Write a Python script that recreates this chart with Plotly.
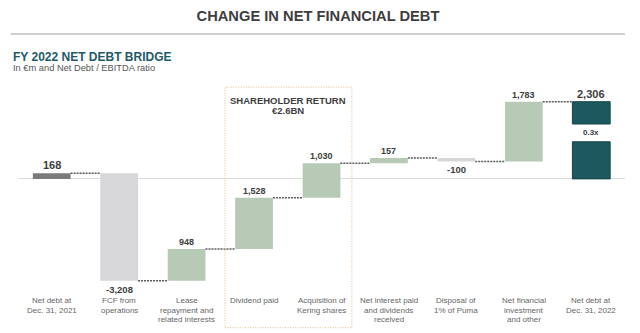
import plotly.graph_objects as go

# ---- data ----
categories = [
    "Net debt at<br>Dec. 31, 2021",
    "FCF from<br>operations",
    "Lease<br>repayment and<br>related interests",
    "Dividend paid",
    "Acquisition of<br>Kering shares",
    "Net interest paid<br>and dividends<br>received",
    "Disposal of<br>1% of Puma",
    "Net financial<br>investment<br>and other",
    "Net debt at<br>Dec. 31, 2022",
]
values = [168, -3208, 948, 1528, 1030, 157, -100, 1783, 2306]
measures = ["total", "relative", "relative", "relative", "relative",
            "relative", "relative", "relative", "total"]
value_labels = ["168", "-3,208", "948", "1,528", "1,030", "157", "-100", "1,783", "2,306"]
ratio_label = "0.3x"
box_lines = ["SHAREHOLDER RETURN", "€2.6BN"]
title_text = "CHANGE IN NET FINANCIAL DEBT"
subtitle_text = "FY 2022 NET DEBT BRIDGE"
unit_text = "In €m and Net Debt / EBITDA ratio"

# ---- styles ----
C_START = "#7b7b7b"
C_DOWN = "#d7d7d9"
C_UP = "#b6cab6"
C_END = "#1c585d"
C_TEXT = "#3d3d3d"
C_LABEL = "#666666"
BAR_W = 0.56
FONT = "Arial, Liberation Sans, sans-serif"
GAP_LO, GAP_HI = 0.481, 0.711  # fraction of final bar left blank for the ratio

# ---- waterfall geometry from data ----
bases, heights, levels, colors = [], [], [], []
cum = 0
for i, (v, m) in enumerate(zip(values, measures)):
    if m == "total":
        bases.append(0); heights.append(v); cum = v
        colors.append(C_START if i == 0 else C_END)
    else:
        bases.append(cum); heights.append(v); cum += v
        colors.append(C_UP if v > 0 else C_DOWN)
    levels.append(cum)

xs = list(range(len(values)))
n = len(values)

fig = go.Figure()
fig.add_trace(go.Bar(
    x=xs[:-1], y=heights[:-1], base=bases[:-1], width=BAR_W,
    marker=dict(color=colors[:-1], line=dict(width=0)), hoverinfo="skip",
))
final = values[-1]
fig.add_trace(go.Bar(
    x=[xs[-1], xs[-1]], y=[final * GAP_LO, final * (1 - GAP_HI)],
    base=[0, final * GAP_HI], width=BAR_W,
    marker=dict(color=C_END, line=dict(color="#14474b", width=1)), hoverinfo="skip",
))

shapes = []
annotations = []

# connectors
for i in range(n - 1):
    shapes.append(dict(type="line", xref="x", yref="y",
                       x0=i + BAR_W / 2, x1=i + 1 - BAR_W / 2,
                       y0=levels[i], y1=levels[i],
                       line=dict(color="#5a5a5a", width=1.5, dash="2px,1px")))

# value labels
for i, (v, m) in enumerate(zip(values, measures)):
    big = m == "total"
    if v >= 0:
        y = levels[i] if m == "relative" else v
        annotations.append(dict(x=i, y=y, xref="x", yref="y", text=f"<b>{value_labels[i]}</b>",
                                showarrow=False, yanchor="bottom", yshift=0,
                                font=dict(size=11 if big else 9, color=C_TEXT, family=FONT)))
    else:
        annotations.append(dict(x=i, y=levels[i], xref="x", yref="y", text=f"<b>{value_labels[i]}</b>",
                                showarrow=False, yanchor="top", yshift=-1,
                                font=dict(size=9.5, color=C_TEXT, family=FONT)))

annotations.append(dict(x=xs[-1], y=final * (GAP_LO + GAP_HI) / 2, xref="x", yref="y",
                        text=f"<b>{ratio_label}</b>", showarrow=False,
                        font=dict(size=8, color=C_TEXT, family=FONT)))

# category labels (one annotation per line for tight spacing)
for i, lab in enumerate(categories):
    for k, line in enumerate(lab.split("<br>")):
        annotations.append(dict(x=i, y=0, xref="x", yref="paper", text=line,
                                showarrow=False, yanchor="middle", yshift=-(15.7 + 9.3 * k),
                                font=dict(size=8, color=C_LABEL, family=FONT)))

# shareholder return box
shapes.append(dict(type="rect", xref="x", yref="paper", x0=2.57, x1=4.45,
                   y0=-0.219, y1=1.015, line=dict(color="#f0c59c", width=1.2, dash="1px,1.5px"),
                   fillcolor="rgba(0,0,0,0)"))
for k, t in enumerate(box_lines):
    annotations.append(dict(x=3.5, y=1.0, xref="x", yref="paper", text=f"<b>{t}</b>",
                            showarrow=False, yanchor="middle", yshift=-(10.3 + 10.4 * k),
                            font=dict(size=9.5, color=C_TEXT, family=FONT)))

# header
shapes.append(dict(type="line", xref="paper", yref="paper", x0=-0.012, x1=1.0,
                   y0=1.287, y1=1.287, line=dict(color="#cfcfcf", width=2)))
annotations.append(dict(x=-0.012, y=(285 - 56.7) / 195, xref="paper", yref="paper",
                        text=f"<b>{subtitle_text}</b>", showarrow=False,
                        xanchor="left", yanchor="middle",
                        font=dict(size=12, color="#1e5a66", family=FONT)))
annotations.append(dict(x=-0.012, y=(285 - 67.5) / 195, xref="paper", yref="paper",
                        text=unit_text, showarrow=False, xanchor="left", yanchor="middle",
                        font=dict(size=9.3, color="#555555", family=FONT)))

fig.update_layout(
    width=640, height=333,
    margin=dict(l=18, r=15, t=90, b=48),
    paper_bgcolor="white", plot_bgcolor="white",
    barmode="overlay", showlegend=False,
    title=dict(text=f"<b>{title_text}</b>", x=318 / 640, y=1 - 15.7 / 333,
               xanchor="center", yanchor="middle", xref="container", yref="container",
               font=dict(size=14.7, color="#3d3d3d", family=FONT)),
    xaxis=dict(range=[-0.5, n - 0.5], showticklabels=False, showgrid=False,
               zeroline=False, showline=False, ticks=""),
    yaxis=dict(range=[-3169, 2655], showticklabels=False, showgrid=False,
               zeroline=True, zerolinecolor="#dcdcdc", zerolinewidth=1,
               showline=False, ticks=""),
    shapes=shapes, annotations=annotations,
)

fig.write_html("out.html")
